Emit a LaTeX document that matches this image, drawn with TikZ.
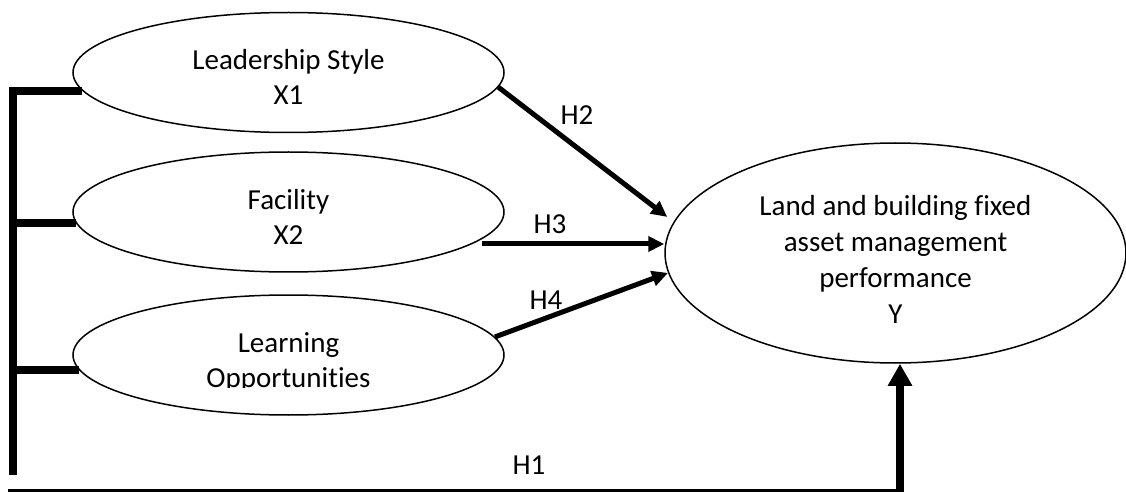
\documentclass[tikz,border=0pt]{standalone}
\usepackage{fontspec}
\setmainfont{Carlito}[Ligatures=NoCommon]
\usepackage{tikz}
\usetikzlibrary{shapes,arrows.meta}
\tikzset{
    var/.style={draw, ellipse, line width=0.75pt, inner sep=0pt,
        minimum width=215.5pt, minimum height=60pt},
    txt/.style={align=center, inner sep=0pt},
    hyp/.style={line width=2.5pt, -{Triangle[length=8pt,width=7.5pt]}},
    bar/.style={line width=4pt},
    lab/.style={inner sep=0pt}
}

\begin{document}
\begin{tikzpicture}[x=0.5pt,y=-0.5pt,font=\fontsize{14.5}{17.5}\selectfont]
    \useasboundingbox (0,0) rectangle (1126,492);
    \node[var] (x1) at (288.5,72.5) {};
    \node[var] (x2) at (288.5,212) {};
    \node[var] (x3) at (288.5,355) {};
    \node[var, minimum width=230.5pt, minimum height=110pt] (y) at (895.5,253) {};
    \node[txt] (x1t) at ([yshift=-2pt]x1.center) {Leadership Style\\X1};
    \node[txt] (x2t) at ([yshift=-2.5pt]x2.center) {Facility\\X2};
    \begin{scope}
        \clip ([yshift=-16pt]x3.west) rectangle (x3.north east);
        \node[txt] (x3t) at ([yshift=-3.5pt]x3.center) {Learning\\Opportunities};
    \end{scope}
    \node[txt, font=\fontsize{14.5}{18}\selectfont] (yt) at ([yshift=-3pt]y.center)
        {Land and building fixed\\asset management\\performance\\Y};
    \coordinate (lb) at (12.5,475);
    \coordinate (bl) at (8,493);
    \draw[bar] (x1.185) -| (lb);
    \draw[bar] (x2.183) -- (x2.183 -| lb);
    \draw[bar] (x3.184) -- (x3.184 -| lb);
    \draw[hyp, shorten >=4pt] (x1.-4) -- (y.172);
    \draw[hyp] ([shift={(193.5,32)}]x2.center) -- ([yshift=4.5pt]y.west);
    \draw[hyp] (x3.5) -- (y.185);
    \draw[bar, -{Triangle[length=11pt,width=11.5pt]}] (bl) -| ([xshift=2.25pt]y.south);
    \node[lab] (h2) at (577,115) {H2};
    \node[lab] (h3) at (550,224) {H3};
    \node[lab] (h4) at (546,300) {H4};
    \node[lab] (h1) at (529,465) {H1};
\end{tikzpicture}
\end{document}
